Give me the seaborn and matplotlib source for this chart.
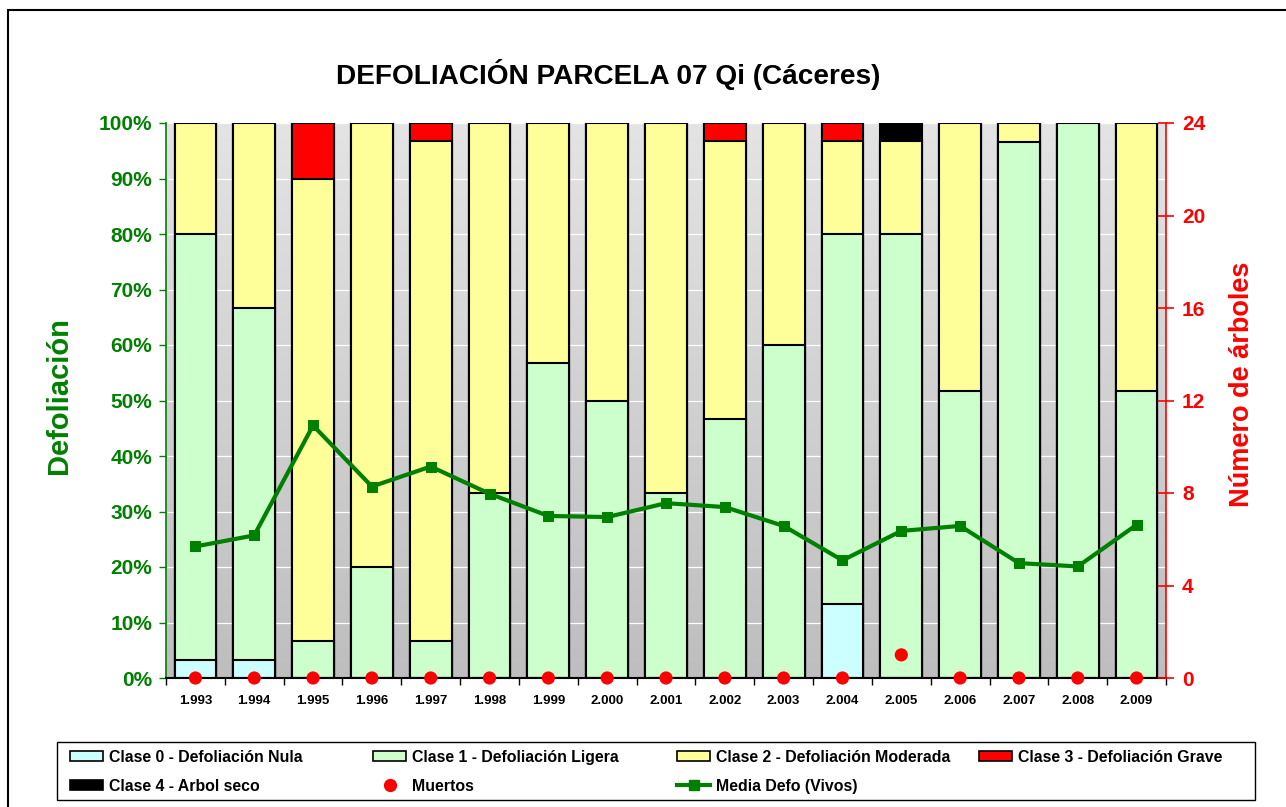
#!/usr/bin/env python3
# coding: utf-8

import matplotlib.pyplot as plt
import seaborn as sns
import pandas as pd
import numpy as np
from matplotlib.patches import Patch, Rectangle
from matplotlib.lines import Line2D
from matplotlib.ticker import FuncFormatter

plt.switch_backend('Agg')

plt.rcParams['font.family'] = ['Liberation Sans', 'DejaVu Sans']
plt.rcParams['font.weight'] = 'bold'

# Data (percent of trees per class, per year)
years = ['1.993', '1.994', '1.995', '1.996', '1.997', '1.998', '1.999', '2.000',
         '2.001', '2.002', '2.003', '2.004', '2.005', '2.006', '2.007', '2.008', '2.009']
clase0 = [3.33, 3.33, 0, 0, 0, 0, 0, 0, 0, 0, 0, 13.33, 0, 0, 0, 0, 0]
clase1 = [76.67, 63.33, 6.67, 20.0, 6.67, 33.33, 56.67, 50.0, 33.33, 46.67, 60.0,
          66.67, 80.0, 51.72, 96.55, 100.0, 51.72]
clase2 = [20.0, 33.33, 83.33, 80.0, 90.0, 66.67, 43.33, 50.0, 66.67, 50.0, 40.0,
          16.67, 16.67, 48.28, 3.45, 0, 48.28]
clase3 = [0, 0, 10.0, 0, 3.33, 0, 0, 0, 0, 3.33, 0, 3.33, 0, 0, 0, 0, 0]
clase4 = [0, 0, 0, 0, 0, 0, 0, 0, 0, 0, 0, 0, 3.33, 0, 0, 0, 0]
media_defo = [23.7, 25.7, 45.5, 34.5, 38.1, 33.2, 29.2, 29.0, 31.5, 30.8, 27.4,
              21.2, 26.5, 27.4, 20.7, 20.1, 27.6]
muertos = [0, 0, 0, 0, 0, 0, 0, 0, 0, 0, 0, 0, 1, 0, 0, 0, 0]

class_names = ['Clase 0 - Defoliación Nula', 'Clase 1 - Defoliación Ligera',
               'Clase 2 - Defoliación Moderada', 'Clase 3 - Defoliación Grave',
               'Clase 4 - Arbol seco']
class_colors = ['#CCFFFF', '#CCFFCC', '#FFFF99', '#FF0000', '#000000']

df = pd.DataFrame({'year': years, 'c0': clase0, 'c1': clase1, 'c2': clase2,
                   'c3': clase3, 'c4': clase4})
cum = df[['c0', 'c1', 'c2', 'c3', 'c4']].cumsum(axis=1)

W, H = 1286, 807
fig = plt.figure(figsize=(W / 100, H / 100), dpi=100)
ax = fig.add_axes([166 / W, 1 - 678 / H, 1000 / W, 555 / H])

# Stacked bars: draw cumulative totals from the top class down
for i in range(4, -1, -1):
    sns.barplot(x=df['year'], y=cum.iloc[:, i], ax=ax, color=class_colors[i],
                edgecolor='black', linewidth=1.5, width=0.71, errorbar=None,
                saturation=1)

# Grey gradient background of the plot area
grad = np.linspace(0, 1, 256).reshape(-1, 1)
top = np.array([0.894, 0.894, 0.894])
bot = np.array([0.745, 0.745, 0.745])
rgb = top + (bot - top) * grad[:, :, None]
ax.imshow(rgb, extent=[0, 1, 0, 1], transform=ax.transAxes, aspect='auto', zorder=0)

sns.lineplot(x=np.arange(len(years)), y=media_defo, ax=ax, color='#008000',
             marker='s', markersize=6.5, markeredgecolor='#008000', lw=3, legend=False,
             zorder=5)

ax.set_xlim(-0.5, len(years) - 0.5)
ax.set_ylim(0, 100)
ax.set_yticks(np.arange(0, 101, 10))
ax.yaxis.set_major_formatter(FuncFormatter(lambda v, p: f'{v:.0f}%'))
ax.yaxis.grid(True, color='white', lw=0.9)
ax.set_axisbelow(True)
ax.set_xlabel('')
ax.set_ylabel('')
ax.set_xticks(np.arange(len(years)))
ax.set_xticklabels(years)
ax.set_xticks(np.arange(-0.5, len(years), 1), minor=True)
ax.tick_params(axis='x', which='major', length=0, pad=12, labelsize=9.5)
ax.tick_params(axis='x', which='minor', length=5, width=1, color='black')
ax.tick_params(axis='y', colors='#008000', labelsize=15, length=5, width=1, pad=5)
for s in ['top', 'right']:
    ax.spines[s].set_visible(False)
ax.spines['left'].set_color('#008000')
ax.spines['left'].set_linewidth(1.2)
ax.spines['bottom'].set_linewidth(1.5)

# Right axis: number of dead trees
ax2 = ax.twinx()
sns.scatterplot(x=np.arange(len(years)), y=muertos, ax=ax2, color='#FF0000', s=90,
                edgecolor='none', clip_on=False, legend=False, zorder=6)
ax2.set_ylim(0, 24)
ax2.set_yticks(np.arange(0, 25, 4))
ax2.set_ylabel('')
ax2.tick_params(axis='y', colors='#FF0000', labelsize=15, direction='inout',
                length=11, width=1.2, pad=6)
for s in ['top', 'left', 'bottom']:
    ax2.spines[s].set_visible(False)
ax2.spines['right'].set_color('#FF0000')
ax2.spines['right'].set_linewidth(1.2)

fig.text(608 / W, 1 - 75 / H, 'DEFOLIACIÓN PARCELA 07 Qi (Cáceres)',
         ha='center', va='center', fontsize=20.2, fontweight='bold')
fig.text(59 / W, 1 - 396 / H, 'Defoliación', rotation=90, ha='center',
         va='center', fontsize=21, color='#008000', fontweight='bold')
fig.text(1242 / W, 1 - 384 / H, 'Número de árboles', rotation=90, ha='center',
         va='center', fontsize=19.5, color='#FF0000', fontweight='bold')

# Legend: fixed-width columns like the reference, one frameless legend per column
h = [Patch(facecolor=c, edgecolor='black', lw=1.2) for c in class_colors]
h_muertos = Line2D([], [], ls='none', marker='o', color='#FF0000', markersize=8.5)
h_media = Line2D([], [], color='#008000', lw=3, marker='s', markersize=6.5)
columns = [([h[0], h[4]], [class_names[0], class_names[4]]),
           ([h[1], h_muertos], [class_names[1], 'Muertos']),
           ([h[2], h_media], [class_names[2], 'Media Defo (Vivos)']),
           ([h[3]], [class_names[3]])]
col_x = [70, 373, 677, 979]
for (hh, ll), x in zip(columns, col_x):
    lg = fig.legend(hh, ll, loc='upper left', bbox_to_anchor=(x / W, 1 - 750 / H),
                    fontsize=11.4, frameon=False, handlelength=2.1, handleheight=0.6,
                    handletextpad=0.35, borderaxespad=0, borderpad=0,
                    labelspacing=0.86)

fig.add_artist(Rectangle((57 / W, 1 - 800 / H), 1198 / W, 58 / H,
                         transform=fig.transFigure, fill=False, ec='black', lw=1))

# Outer chart border
fig.add_artist(Rectangle((8 / W, -0.05), 1.2, 1 - 10 / H + 0.05,
                         transform=fig.transFigure, fill=False, ec='black', lw=1.5))

plt.savefig('out.png', dpi=100)
